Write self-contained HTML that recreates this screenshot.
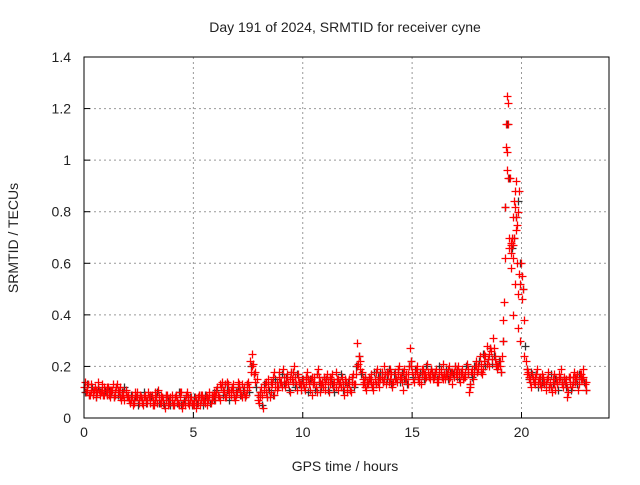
<!DOCTYPE html>
<html><head><meta charset="utf-8"><style>
body{margin:0;background:#fff;}
svg text{font-family:"Liberation Sans",sans-serif;font-size:14px;fill:#222;}
</style></head><body>
<svg id="chart" width="640" height="480" xmlns="http://www.w3.org/2000/svg">
<rect width="640" height="480" fill="#fff"/>
<text x="345" y="32" text-anchor="middle">Day 191 of 2024, SRMTID for receiver cyne</text>
<text transform="translate(18,238) rotate(-90)" text-anchor="middle">SRMTID / TECUs</text>
<text x="345" y="471" text-anchor="middle">GPS time / hours</text>
<g id="grid"></g><g id="pts"></g><g id="axes"></g>
</svg>
<script>
const xTicks=[0,5,10,15,20];
const yTicks=[0,0.2,0.4,0.6,0.8,1,1.2,1.4];
const yTickLabels=["0","0.2","0.4","0.6","0.8","1","1.2","1.4"];
const tecu=[0.12,0.10,0.13,0.11,0.09,0.12,0.10,0.11,0.13,0.09,
0.10,0.12,0.08,0.11,0.09,0.13,0.10,0.07,0.09,0.11,
0.08,0.06,0.09,0.07,0.10,0.06,0.08,0.05,0.09,0.07,
0.06,0.09,0.05,0.08,0.11,0.06,0.07,0.04,0.09,0.06,
0.07,0.05,0.09,0.06,0.08,0.04,0.07,0.10,0.05,0.08,
0.06,0.04,0.08,0.05,0.09,0.07,0.05,0.10,0.06,0.08,
0.09,0.12,0.07,0.14,0.10,0.08,0.13,0.09,0.11,0.07,
0.10,0.13,0.08,0.12,0.09,0.14,0.22,0.25,0.18,0.15,
0.06,0.12,0.04,0.10,0.15,0.08,0.13,0.18,0.11,0.16,
0.14,0.19,0.12,0.17,0.10,0.15,0.20,0.13,0.16,0.11,
0.15,0.11,0.18,0.13,0.09,0.16,0.12,0.19,0.10,0.14,
0.13,0.17,0.10,0.15,0.12,0.18,0.11,0.14,0.16,0.09,
0.12,0.15,0.10,0.17,0.13,0.29,0.22,0.18,0.14,0.11,
0.13,0.17,0.11,0.15,0.19,0.12,0.16,0.20,0.13,0.17,
0.15,0.12,0.18,0.14,0.20,0.16,0.11,0.17,0.13,0.27,
0.18,0.14,0.20,0.16,0.13,0.19,0.17,0.21,0.15,0.18,
0.16,0.19,0.14,0.18,0.21,0.15,0.17,0.20,0.13,0.18,
0.17,0.20,0.14,0.19,0.16,0.21,0.10,0.18,0.15,0.22,
0.19,0.24,0.17,0.22,0.28,0.20,0.26,0.31,0.23,0.19,
0.20,0.24,0.45,1.05,1.22,0.68,0.62,0.82,0.75,0.88,
0.55,0.38,0.22,0.18,0.14,0.17,0.13,0.19,0.15,0.12,
0.16,0.11,0.18,0.14,0.10,0.17,0.13,0.15,0.19,0.12,
0.14,0.08,0.16,0.12,0.18,0.15,0.11,0.17,0.19,0.13];
const tecuB=[0.10,0.13,0.09,0.12,0.11,0.08,0.12,0.10,0.09,0.11,
0.09,0.11,0.10,0.08,0.12,0.09,0.08,0.10,0.12,0.08,
0.07,0.09,0.06,0.08,0.05,0.09,0.07,0.10,0.06,0.08,
0.08,0.05,0.07,0.10,0.06,0.08,0.05,0.09,0.07,0.05,
0.05,0.08,0.06,0.10,0.05,0.07,0.09,0.06,0.08,0.05,
0.08,0.06,0.09,0.07,0.05,0.09,0.07,0.06,0.09,0.07,
0.11,0.08,0.12,0.09,0.13,0.11,0.07,0.12,0.08,0.10,
0.12,0.09,0.11,0.08,0.13,0.10,0.20,0.17,0.12,0.09,
0.10,0.05,0.13,0.08,0.11,0.14,0.09,0.15,0.12,0.14,
0.17,0.13,0.16,0.11,0.18,0.14,0.12,0.17,0.13,0.15,
0.12,0.16,0.10,0.15,0.13,0.11,0.17,0.14,0.12,0.16,
0.15,0.11,0.16,0.13,0.10,0.15,0.13,0.17,0.11,0.14,
0.14,0.11,0.16,0.12,0.20,0.24,0.17,0.13,0.16,0.13,
0.15,0.12,0.18,0.13,0.16,0.18,0.14,0.17,0.15,0.19,
0.13,0.17,0.15,0.19,0.14,0.18,0.15,0.13,0.20,0.22,
0.16,0.19,0.15,0.18,0.17,0.15,0.20,0.16,0.19,0.16,
0.18,0.15,0.20,0.16,0.17,0.19,0.15,0.18,0.17,0.20,
0.19,0.15,0.18,0.16,0.20,0.17,0.13,0.16,0.20,0.18,
0.22,0.18,0.25,0.20,0.23,0.27,0.21,0.24,0.20,0.22,
0.18,0.30,0.82,1.14,0.93,0.66,0.70,0.78,0.84,0.60,
0.50,0.28,0.19,0.15,0.18,0.14,0.17,0.12,0.16,0.14,
0.13,0.15,0.12,0.17,0.13,0.15,0.11,0.16,0.13,0.15,
0.12,0.16,0.11,0.14,0.16,0.13,0.17,0.15,0.14,0.11];
const tecuC=[0.14,0.11,0.09,0.13,0.10,0.11,0.14,0.09,0.11,0.12,
0.12,0.09,0.11,0.13,0.10,0.11,0.12,0.09,0.07,0.10,
0.09,0.07,0.05,0.10,0.08,0.07,0.06,0.08,0.07,0.10,
0.09,0.07,0.10,0.06,0.08,0.09,0.06,0.07,0.05,0.08,
0.09,0.06,0.07,0.05,0.10,0.06,0.05,0.08,0.07,0.06,
0.05,0.07,0.06,0.09,0.07,0.06,0.08,0.09,0.07,0.10,
0.10,0.09,0.13,0.11,0.08,0.14,0.10,0.11,0.13,0.09,
0.14,0.11,0.13,0.10,0.11,0.12,0.18,0.21,0.14,0.07,
0.08,0.09,0.11,0.14,0.12,0.10,0.16,0.12,0.14,0.18,
0.12,0.16,0.14,0.13,0.15,0.18,0.16,0.11,0.14,0.13,
0.13,0.14,0.15,0.11,0.16,0.14,0.10,0.16,0.13,0.12,
0.11,0.14,0.13,0.17,0.14,0.12,0.15,0.12,0.13,0.15,
0.10,0.13,0.14,0.13,0.17,0.21,0.19,0.15,0.12,0.14,
0.16,0.14,0.13,0.18,0.14,0.15,0.18,0.15,0.18,0.14,
0.17,0.14,0.15,0.17,0.16,0.14,0.19,0.15,0.17,0.20,
0.15,0.17,0.18,0.14,0.19,0.17,0.16,0.18,0.17,0.15,
0.17,0.14,0.17,0.19,0.15,0.17,0.19,0.16,0.18,0.16,
0.16,0.18,0.17,0.15,0.18,0.19,0.12,0.19,0.17,0.20,
0.20,0.21,0.19,0.24,0.21,0.25,0.23,0.27,0.21,0.20,
0.22,0.38,0.62,0.96,0.70,0.64,0.67,0.73,0.80,0.52,
0.46,0.24,0.17,0.16,0.12,0.15,0.16,0.14,0.13,0.17,
0.14,0.13,0.16,0.12,0.15,0.11,0.14,0.17,0.14,0.16,
0.15,0.10,0.13,0.16,0.14,0.17,0.13,0.15,0.16,0.14];
const peakTimes=[19.25,19.3,19.35,19.4,19.45,19.5,19.55,19.6,19.65,19.7,19.75,19.8,19.85,19.9,19.95,19.32,19.52,19.62,19.72,19.82];
const peakVals=[0.82,1.14,1.25,0.93,0.66,0.58,0.70,0.78,0.84,0.52,0.92,0.60,0.48,0.56,0.30,1.03,0.67,0.40,0.88,0.35];
const L=84,R=609,T=57,B=418,XMAX=24,YMAX=1.4;
const X=v=>L+v/XMAX*(R-L), Y=v=>B-v/YMAX*(B-T);
const NS="http://www.w3.org/2000/svg";
function mk(tag,parent,attrs){const e=document.createElementNS(NS,tag);for(const k in attrs)e.setAttribute(k,attrs[k]);parent.appendChild(e);return e;}
const grid=document.getElementById('grid'),axes=document.getElementById('axes'),pts=document.getElementById('pts');
xTicks.forEach(t=>{
 if(t>0){const g=mk('line',grid,{x1:X(t),x2:X(t),y1:T,y2:B,stroke:'#999','stroke-dasharray':'2,3'});
 
 }
 const tk=mk('line',axes,{x1:X(t),x2:X(t),y1:B,y2:B-6,stroke:'#000'});
 
 
 const lb=mk('text',axes,{x:X(t),y:B+19,'text-anchor':'middle'});lb.textContent=t;
 
 
});
yTicks.forEach((t,i)=>{
 if(t>0&&t<YMAX){const g=mk('line',grid,{x1:L,x2:R,y1:Y(t),y2:Y(t),stroke:'#999','stroke-dasharray':'2,3'});
 
 }
 const tk=mk('line',axes,{x1:L,x2:L+6,y1:Y(t),y2:Y(t),stroke:'#000'});
 
 
 const lb=mk('text',axes,{x:L-13,y:Y(t)+5,'text-anchor':'end'});lb.textContent=yTickLabels[i];
 
 
});
const fr=mk('rect',axes,{x:L,y:T,width:R-L,height:B-T,fill:'none',stroke:'#000'});


function plus(t,v,c){
 const x=Math.round(X(t))+0.5,y=Math.round(Y(v))+0.5;
 const p=mk('path',pts,{d:`M${x-4} ${y}H${x+4}M${x} ${y-4}V${y+4}`,stroke:c,'stroke-width':1.3});
 
 
}
tecuB.forEach((v,i)=>plus(i*0.1+0.05,v,'#333'));
tecu.forEach((v,i)=>plus(i*0.1,v,'#f00'));
tecuC.forEach((v,i)=>plus(i*0.1+0.033,v,'#f00'));
tecuB.forEach((v,i)=>{if(i%3)plus(i*0.1+0.066,v,'#f00');});
peakVals.forEach((v,i)=>plus(peakTimes[i],v,'#f00'));
</script>
</body></html>
